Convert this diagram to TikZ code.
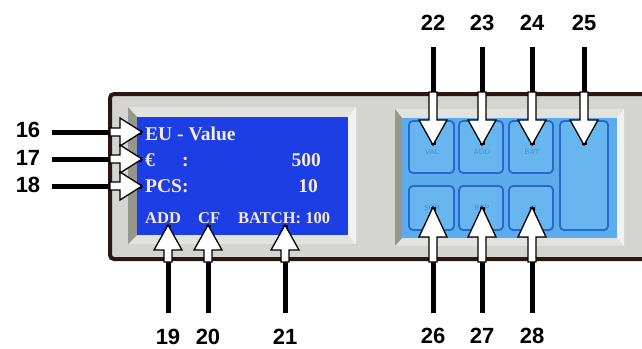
\documentclass[tikz,border=0pt]{standalone}
\usepackage{fontspec}
\setmainfont{Liberation Serif}
\newfontfamily\numfont{Liberation Sans}
\definecolor{framebrd}{RGB}{45,22,18}
\definecolor{framefill}{RGB}{212,212,208}
\definecolor{bevel}{RGB}{226,226,222}
\definecolor{bevelshadow}{RGB}{150,150,140}
\definecolor{lcd}{RGB}{28,62,228}
\definecolor{lcdtext}{RGB}{246,236,222}
\definecolor{pad}{RGB}{92,172,236}
\definecolor{keyfill}{RGB}{104,182,240}
\definecolor{keybrd}{RGB}{38,104,206}
\definecolor{keytxt}{RGB}{70,138,212}
\newcommand\fatarr[4]{\draw[fat, shift={(#1)}, rotate=#2] (0,0) -- (-#3,14) -- (-#3,4) -- (-#4,4) -- (-#4,-4) -- (-#3,-4) -- (-#3,-14) -- cycle;}
\begin{document}
\begin{tikzpicture}[x=1pt,y=-1pt,
  num/.style={font=\numfont\bfseries\fontsize{22}{22}\selectfont, text=black, inner sep=0pt},
  lcdtxt/.style={font=\bfseries\fontsize{19.5}{20}\selectfont, text=lcdtext, inner sep=0pt, anchor=base west},
  lcdsmall/.style={font=\bfseries\fontsize{16.5}{17}\selectfont, text=lcdtext, inner sep=0pt, anchor=base west},
  bar/.style={line width=5pt, black},
  fat/.style={fill=white, draw=black, line width=1.3pt, line join=miter},
  keybox/.style={draw=keybrd, fill=keyfill, line width=1.8pt, rounded corners=4pt},
  keylab/.style={font=\sffamily\fontsize{7.5}{8}\selectfont, text=keytxt, inner sep=0pt}]
\useasboundingbox (0,0) rectangle (642,348);
\fill[white] (0,0) rectangle (642,348);
% device frame
\draw[framebrd, fill=framefill, line width=4pt, rounded corners=4pt] (110,94) rectangle (660,259);
% LCD bevel
\fill[bevel] (128,107) rectangle (356,244);
\fill[bevelshadow] (128,107) -- (137,117) -- (137,235) -- (128,244) -- cycle;
\fill[white!90!gray] (356,107) -- (348,117) -- (348,235) -- (356,244) -- cycle;
\fill[lcd] (137,117) rectangle (348,235);
% keypad bevel
\fill[bevel] (395,109) rectangle (624,246);
\fill[bevelshadow] (395,109) -- (402,118) -- (402,238) -- (395,246) -- cycle;
\fill[white!90!gray] (624,109) -- (617,118) -- (617,238) -- (624,246) -- cycle;
\fill[pad] (402,118) rectangle (617,238);
% keys
\draw[keybox] (409,121) rectangle (454,173);
\draw[keybox] (459,121) rectangle (503,173);
\draw[keybox] (509,121) rectangle (553,173);
\draw[keybox] (409,186) rectangle (454,230);
\draw[keybox] (459,186) rectangle (503,230);
\draw[keybox] (509,186) rectangle (553,230);
\draw[keybox] (560,121) rectangle (608,230);
\node[keylab] (kval) at (432,152) {VAL};
\node[keylab] (kadd) at (482,152) {ADD};
\node[keylab] (kbat) at (532,152) {BAT};
\node[keylab] (ksor) at (432,208) {SOR};
\node[keylab] (krep) at (482,208) {REP};
\node[keylab] (kpm) at (532,208) {+1};
% LCD text
\node[lcdtxt] (eu) at (145,140) {EU - Value};
\node[lcdtxt] (euro) at (145,166) {€};
\node[lcdtxt] (colon) at (182,166) {:};
\node[lcdtxt, anchor=base east] (v500) at (321,166) {500};
\node[lcdtxt] (pcs) at (145,192) {PCS:};
\node[lcdtxt, anchor=base east] (v10) at (318,192) {10};
\node[lcdsmall] (addt) at (145,223) {ADD};
\node[lcdsmall] (cft) at (198,223) {CF};
\node[lcdsmall] (batch) at (238,223) {BATCH: 100};
% labels
\node[num] (l16) at (28,130) {16};
\node[num] (l17) at (28,158) {17};
\node[num] (l18) at (28,185) {18};
\node[num] (l19) at (168,337) {19};
\node[num] (l20) at (208,337) {20};
\node[num] (l21) at (285,337) {21};
\node[num] (l22) at (433,23) {22};
\node[num] (l23) at (482,23) {23};
\node[num] (l24) at (532,23) {24};
\node[num] (l25) at (584,23) {25};
\node[num] (l26) at (433,336) {26};
\node[num] (l27) at (482,336) {27};
\node[num] (l28) at (532,336) {28};
% arrow tips
\coordinate (t16) at (142,132);
\coordinate (t17) at (142,159);
\coordinate (t18) at (142,186);
\coordinate (t19) at (168,225);
\coordinate (t20) at (208,225);
\coordinate (t21) at (285,225);
\coordinate (t22) at (433,145);
\coordinate (t23) at (482,145);
\coordinate (t24) at (532,145);
\coordinate (t25) at (584,145);
\coordinate (t26) at (433,207);
\coordinate (t27) at (482,207);
\coordinate (t28) at (532,207);
% bars
\draw[bar] (l16.east) ++(12,2) -- (t16);
\draw[bar] (l17.east) ++(12,1) -- (t17);
\draw[bar] (l18.east) ++(12,1) -- (t18);
\draw[bar] (t19 |- 0,313) -- (t19);
\draw[bar] (t20 |- 0,313) -- (t20);
\draw[bar] (t21 |- 0,313) -- (t21);
\draw[bar] (t22 |- 0,47) -- (t22);
\draw[bar] (t23 |- 0,47) -- (t23);
\draw[bar] (t24 |- 0,47) -- (t24);
\draw[bar] (t25 |- 0,47) -- (t25);
\draw[bar] (t26 |- 0,313) -- (t26);
\draw[bar] (t27 |- 0,313) -- (t27);
\draw[bar] (t28 |- 0,313) -- (t28);
% fat arrows
\fatarr{t16}{0}{22}{32}
\fatarr{t17}{0}{22}{32}
\fatarr{t18}{0}{22}{32}
\fatarr{t19}{90}{25}{37}
\fatarr{t20}{90}{25}{37}
\fatarr{t21}{90}{25}{37}
\fatarr{t22}{-90}{25}{53}
\fatarr{t23}{-90}{25}{53}
\fatarr{t24}{-90}{25}{53}
\fatarr{t25}{-90}{25}{53}
\fatarr{t26}{90}{30}{55}
\fatarr{t27}{90}{30}{55}
\fatarr{t28}{90}{30}{55}
\end{tikzpicture}
\end{document}
